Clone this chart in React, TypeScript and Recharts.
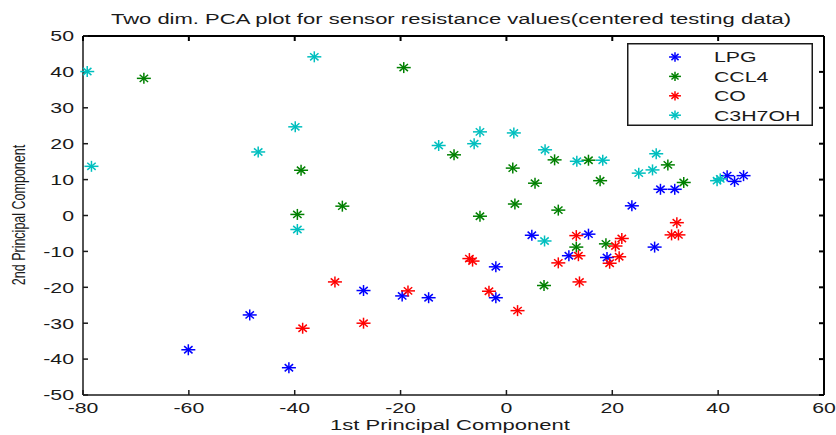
import React from 'react'
import { ScatterChart, Scatter, XAxis, YAxis, ReferenceLine } from 'recharts'

// values
const lpg = [
  { x: -60.1, y: -37.4 }, { x: -41.1, y: -42.4 }, { x: -48.5, y: -27.7 }, { x: -27.0, y: -20.9 },
  { x: -19.7, y: -22.4 }, { x: -14.7, y: -22.9 }, { x: -2.0, y: -14.3 }, { x: -2.0, y: -22.9 },
  { x: 4.8, y: -5.5 }, { x: 15.5, y: -5.2 }, { x: 11.8, y: -11.2 }, { x: 19.0, y: -11.7 },
  { x: 28.0, y: -8.8 }, { x: 23.7, y: 2.7 }, { x: 29.1, y: 7.3 }, { x: 31.8, y: 7.3 },
  { x: 41.7, y: 11.1 }, { x: 43.1, y: 9.5 }, { x: 44.8, y: 11.1 },
]
const ccl4 = [
  { x: -68.5, y: 38.2 }, { x: -19.4, y: 41.2 }, { x: -38.8, y: 12.6 }, { x: -9.9, y: 16.9 },
  { x: -31.0, y: 2.6 }, { x: -39.5, y: 0.3 }, { x: -5.0, y: -0.2 }, { x: 1.2, y: 13.2 },
  { x: 9.1, y: 15.5 }, { x: 15.5, y: 15.4 }, { x: 30.5, y: 14.1 }, { x: 5.4, y: 9.0 },
  { x: 17.7, y: 9.7 }, { x: 33.5, y: 9.2 }, { x: 1.6, y: 3.2 }, { x: 9.8, y: 1.5 },
  { x: 18.8, y: -7.9 }, { x: 13.2, y: -8.8 }, { x: 7.1, y: -19.5 },
]
const co = [
  { x: -7.0, y: -12.0 }, { x: -6.4, y: -12.7 }, { x: -32.4, y: -18.5 }, { x: -18.6, y: -21.0 },
  { x: -38.5, y: -31.4 }, { x: -27.0, y: -30.0 }, { x: 32.2, y: -2.0 }, { x: 31.2, y: -5.4 },
  { x: 32.5, y: -5.4 }, { x: 13.2, y: -5.6 }, { x: 21.8, y: -6.4 }, { x: 20.6, y: -8.5 },
  { x: 13.6, y: -11.2 }, { x: 21.3, y: -11.5 }, { x: 19.5, y: -13.3 }, { x: 9.8, y: -13.2 },
  { x: 13.8, y: -18.5 }, { x: -3.3, y: -21.1 }, { x: 2.1, y: -26.5 },
]
const c3h7oh = [
  { x: -79.2, y: 40.1 }, { x: -78.4, y: 13.7 }, { x: -36.3, y: 44.2 }, { x: -39.9, y: 24.7 },
  { x: -46.9, y: 17.7 }, { x: -12.8, y: 19.5 }, { x: -6.1, y: 20.0 }, { x: -5.0, y: 23.3 },
  { x: -39.5, y: -3.9 }, { x: 1.4, y: 23.0 }, { x: 7.3, y: 18.3 }, { x: 13.3, y: 15.1 },
  { x: 18.2, y: 15.4 }, { x: 28.3, y: 17.2 }, { x: 25.0, y: 11.8 }, { x: 27.6, y: 12.7 },
  { x: 39.8, y: 9.7 }, { x: 40.4, y: 10.2 }, { x: 7.2, y: -7.1 },
]

const seriesNames = ['LPG', 'CCL4', 'CO', 'C3H7OH']
const seriesColors = ['#0000ff', '#008000', '#ff0000', '#00bfbf']
const xTicks = [-80, -60, -40, -20, 0, 20, 40, 60]
const yTicks = [-50, -40, -30, -20, -10, 0, 10, 20, 30, 40, 50]

const FONT = '"Liberation Sans", Arial, sans-serif'
const SX = 1.42 // the reference is stretched sideways
const INK = '#1a1a1a'
const TOP = 36, RIGHT = 824, TICK = 5

function Star({ cx, cy, color, s = 1 }: { cx: number; cy: number; color: string; s?: number }) {
  const h = 7 * s, v = 5.5 * s, dx = 4.2 * s, dy = 3.6 * s
  return (
    <g stroke={color} strokeWidth={1.5}>
      <line x1={cx - h} y1={cy} x2={cx + h} y2={cy} />
      <line x1={cx} y1={cy - v} x2={cx} y2={cy + v} />
      <line x1={cx - dx} y1={cy - dy} x2={cx + dx} y2={cy + dy} />
      <line x1={cx - dx} y1={cy + dy} x2={cx + dx} y2={cy - dy} />
    </g>
  )
}

const star = (color: string) => (p: any) => <Star cx={p.cx} cy={p.cy} color={color} />

// bottom tick label, plus the matching inward tick on the top edge of the box
function XTick({ x, y, payload }: any) {
  return (
    <g>
      <line x1={x} x2={x} y1={TOP} y2={TOP + TICK} stroke="#000" strokeWidth={2} />
      <text transform={`translate(${x},${y}) scale(${SX},1)`} textAnchor="middle" dy="0.71em"
        fontSize={15} fontFamily={FONT} fill={INK}>{payload.value}</text>
    </g>
  )
}

function YTick({ x, y, payload }: any) {
  return (
    <g>
      <line x1={RIGHT - TICK} x2={RIGHT} y1={y} y2={y} stroke="#000" strokeWidth={2} />
      <text transform={`translate(${x},${y}) scale(${SX},1)`} textAnchor="end" dy="0.355em"
        fontSize={15} fontFamily={FONT} fill={INK}>{payload.value}</text>
    </g>
  )
}

function LegendBox() {
  return (
    <svg width={186} height={83} style={{ position: 'absolute', left: 627, top: 43, display: 'block' }}>
      <rect x={0.75} y={0.75} width={184.5} height={81.5} fill="#fff" stroke={INK} strokeWidth={1.5} />
      {seriesNames.map((name, i) => {
        const cy = 14 + i * 19.4
        return (
          <g key={name}>
            <Star cx={48} cy={cy} color={seriesColors[i]} s={0.85} />
            <text transform={`translate(87,${cy}) scale(${SX},1)`} dy="0.355em" fontSize={15}
              fontFamily={FONT} fill={INK}>{name}</text>
          </g>
        )
      })}
    </svg>
  )
}

const textStyle = (size: number): React.CSSProperties => ({
  position: 'absolute', fontFamily: FONT, fontSize: size, lineHeight: 1, color: INK,
  whiteSpace: 'nowrap',
})

export default function App() {
  return (
    <div style={{ position: 'absolute', left: 0, top: 0, width: 836, height: 435, background: '#fff' }}>
      <ScatterChart width={836} height={435} margin={{ top: TOP, right: 836 - RIGHT, bottom: 0, left: 0 }}>
        <XAxis type="number" dataKey="x" domain={[-80, 60]} ticks={xTicks} height={40}
          tick={<XTick />} tickSize={-TICK} tickMargin={12} stroke={INK} strokeWidth={1.5} interval={0} />
        <YAxis type="number" dataKey="y" domain={[-50, 50]} ticks={yTicks} width={83}
          tick={<YTick />} tickSize={-TICK} tickMargin={14} stroke={INK} strokeWidth={1.5} interval={0} />
        <ReferenceLine y={yTicks[yTicks.length - 1]} stroke="#000" strokeWidth={2} />
        <ReferenceLine x={xTicks[xTicks.length - 1]} stroke="#000" strokeWidth={2} />
        <Scatter name="LPG" data={lpg} fill={seriesColors[0]} shape={star(seriesColors[0])} isAnimationActive={false} />
        <Scatter name="CCL4" data={ccl4} fill={seriesColors[1]} shape={star(seriesColors[1])} isAnimationActive={false} />
        <Scatter name="CO" data={co} fill={seriesColors[2]} shape={star(seriesColors[2])} isAnimationActive={false} />
        <Scatter name="C3H7OH" data={c3h7oh} fill={seriesColors[3]} shape={star(seriesColors[3])} isAnimationActive={false} />
      </ScatterChart>
      <LegendBox />
      <div style={{ ...textStyle(15.5), left: 451, top: 11, transform: `translateX(-50%) scaleX(${SX})` }}>
        Two dim. PCA plot for sensor resistance values(centered testing data)
      </div>
      <div style={{ ...textStyle(15.5), left: 450, top: 417, transform: `translateX(-50%) scaleX(${SX})` }}>
        1st Principal Component
      </div>
      <div style={{ ...textStyle(12.5), left: 0, top: 0, transformOrigin: '0 0',
        transform: `translate(20px, 215px) scaleX(${SX}) rotate(-90deg) translate(-50%, -50%)` }}>
        2nd Principal Component
      </div>
    </div>
  )
}
